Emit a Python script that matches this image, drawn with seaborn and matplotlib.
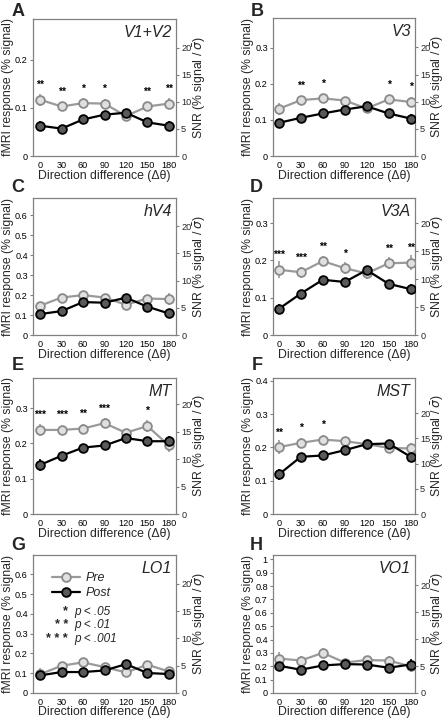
import numpy as np
import pandas as pd
import matplotlib
matplotlib.use("Agg")
import matplotlib.pyplot as plt
import seaborn as sns
from matplotlib.lines import Line2D

sns.set_style("white")
plt.rcParams['font.family'] = ['Liberation Sans', 'DejaVu Sans']

# ---------------- data ----------------
directions = [0, 30, 60, 90, 120, 150, 180]
panel_letters = ["A", "B", "C", "D", "E", "F", "G", "H"]
regions = ["V1+V2", "V3", "hV4", "V3A", "MT", "MST", "LO1", "VO1"]

pre_A = [0.117, 0.103, 0.110, 0.109, 0.083, 0.103, 0.109]
post_A = [0.063, 0.057, 0.076, 0.086, 0.090, 0.070, 0.063]
pre_B = [0.131, 0.155, 0.160, 0.154, 0.132, 0.157, 0.150]
post_B = [0.092, 0.106, 0.118, 0.129, 0.138, 0.118, 0.104]
pre_C = [0.147, 0.188, 0.200, 0.188, 0.152, 0.183, 0.180]
post_C = [0.105, 0.120, 0.165, 0.162, 0.187, 0.142, 0.108]
pre_D = [0.175, 0.168, 0.198, 0.179, 0.165, 0.192, 0.194]
post_D = [0.070, 0.111, 0.148, 0.142, 0.174, 0.137, 0.123]
pre_E = [0.238, 0.238, 0.242, 0.257, 0.230, 0.249, 0.194]
post_E = [0.139, 0.165, 0.188, 0.194, 0.215, 0.206, 0.206]
pre_F = [0.201, 0.214, 0.224, 0.219, 0.210, 0.199, 0.197]
post_F = [0.119, 0.172, 0.176, 0.192, 0.210, 0.212, 0.172]
pre_G = [0.095, 0.138, 0.155, 0.131, 0.104, 0.143, 0.109]
post_G = [0.089, 0.106, 0.106, 0.114, 0.146, 0.101, 0.096]
pre_H = [0.258, 0.243, 0.300, 0.228, 0.246, 0.243, 0.199]
post_H = [0.204, 0.174, 0.206, 0.216, 0.213, 0.189, 0.213]

# standard errors (estimated)
err_pre_A = [0.012, 0.010, 0.011, 0.010, 0.008, 0.010, 0.011]
err_post_A = [0.009, 0.008, 0.008, 0.008, 0.008, 0.008, 0.010]
err_pre_B = [0.016, 0.012, 0.012, 0.011, 0.010, 0.012, 0.014]
err_post_B = [0.012, 0.010, 0.010, 0.010, 0.010, 0.010, 0.013]
err_pre_C = [0.020, 0.016, 0.016, 0.015, 0.015, 0.016, 0.030]
err_post_C = [0.022, 0.016, 0.016, 0.016, 0.016, 0.018, 0.024]
err_pre_D = [0.022, 0.014, 0.014, 0.016, 0.014, 0.016, 0.020]
err_post_D = [0.014, 0.010, 0.010, 0.010, 0.012, 0.010, 0.014]
err_pre_E = [0.018, 0.012, 0.012, 0.014, 0.012, 0.016, 0.018]
err_post_E = [0.016, 0.010, 0.010, 0.010, 0.010, 0.010, 0.016]
err_pre_F = [0.022, 0.014, 0.014, 0.012, 0.012, 0.012, 0.018]
err_post_F = [0.016, 0.012, 0.010, 0.010, 0.010, 0.010, 0.016]
err_pre_G = [0.030, 0.014, 0.014, 0.014, 0.012, 0.014, 0.020]
err_post_G = [0.020, 0.012, 0.012, 0.012, 0.012, 0.012, 0.018]
err_pre_H = [0.050, 0.030, 0.035, 0.030, 0.030, 0.030, 0.045]
err_post_H = [0.035, 0.025, 0.025, 0.025, 0.025, 0.025, 0.040]

stars_A = ["**", "**", "*", "*", "", "**", "**"]
stars_B = ["", "**", "*", "", "", "*", "*"]
stars_C = ["", "", "", "", "", "", ""]
stars_D = ["***", "***", "**", "*", "", "**", "**"]
stars_E = ["***", "***", "**", "***", "", "*", ""]
stars_F = ["**", "*", "*", "", "", "", ""]
stars_G = ["", "", "", "", "", "", ""]
stars_H = ["", "", "", "", "", "", ""]

y_max = [0.285, 0.383, 0.687, 0.367, 0.385, 0.409, 0.698, 1.032]
y_ticks = [
    [0, 0.1, 0.2],
    [0, 0.1, 0.2, 0.3],
    [0, 0.1, 0.2, 0.3, 0.4, 0.5, 0.6],
    [0, 0.1, 0.2, 0.3],
    [0, 0.1, 0.2, 0.3],
    [0, 0.1, 0.2, 0.3, 0.4],
    [0, 0.1, 0.2, 0.3, 0.4, 0.5, 0.6],
    [0, 0.1, 0.2, 0.3, 0.4, 0.5, 0.6, 0.7, 0.8, 0.9, 1.0],
]
snr_max = [25.3, 25.4, 25.2, 24.5, 24.8, 27.0, 25.3, 25.6]
snr_ticks = [0, 5, 10, 15, 20]

pres = [pre_A, pre_B, pre_C, pre_D, pre_E, pre_F, pre_G, pre_H]
posts = [post_A, post_B, post_C, post_D, post_E, post_F, post_G, post_H]
err_pres = [err_pre_A, err_pre_B, err_pre_C, err_pre_D, err_pre_E, err_pre_F, err_pre_G, err_pre_H]
err_posts = [err_post_A, err_post_B, err_post_C, err_post_D, err_post_E, err_post_F, err_post_G, err_post_H]
stars = [stars_A, stars_B, stars_C, stars_D, stars_E, stars_F, stars_G, stars_H]

# ---------------- layout ----------------
W, H = 445, 718
fig = plt.figure(figsize=(W / 100, H / 100), dpi=100)

# pixel boxes (left, top, right, bottom)
boxes = [
    (33, 19, 176, 156), (273, 18, 415, 156),
    (33, 198, 176, 335), (273, 198, 415, 335),
    (33, 378, 176, 514), (273, 378, 415, 514),
    (33, 555, 176, 693), (273, 555, 415, 693),
]
letter_pos = [(18, 12), (257, 12), (18, 188), (256, 188),
              (18, 366), (257, 366), (18, 545), (256, 545)]

PRE_FACE, PRE_EDGE, PRE_LINE = "#e0e0e0", "#8a8a8a", "#9a9a9a"
POST_FACE, POST_EDGE, POST_LINE = "#5a5a5a", "#000000", "#000000"
SPINE = "#808080"
TICK_FS = 6.6
LABEL_FS = 8.8

for i in range(8):
    l, t, r, b = boxes[i]
    ax = fig.add_axes([l / W, 1 - b / H, (r - l) / W, (b - t) / H])
    left_col = (i % 2 == 0)
    xlim = (-10, 190) if left_col else (-8, 186)
    axw, axh = (r - l), (b - t)

    df = pd.DataFrame({
        "direction": directions * 2,
        "response": pres[i] + posts[i],
        "cond": ["Pre"] * 7 + ["Post"] * 7,
    })
    ax.errorbar(directions, pres[i], yerr=err_pres[i], fmt="none",
                ecolor=PRE_LINE, elinewidth=1.2, capsize=0, zorder=2)
    ax.errorbar(directions, posts[i], yerr=err_posts[i], fmt="none",
                ecolor=POST_LINE, elinewidth=1.2, capsize=0, zorder=3)
    sns.lineplot(data=df[df.cond == "Pre"], x="direction", y="response",
                 ax=ax, color=PRE_LINE, lw=1.6, marker="o", markersize=6.3,
                 markerfacecolor=PRE_FACE, markeredgecolor=PRE_EDGE,
                 markeredgewidth=1.3, zorder=4, legend=False)
    sns.lineplot(data=df[df.cond == "Post"], x="direction", y="response",
                 ax=ax, color=POST_LINE, lw=1.6, marker="o", markersize=6.3,
                 markerfacecolor=POST_FACE, markeredgecolor=POST_EDGE,
                 markeredgewidth=1.3, zorder=5, legend=False)

    for j, s in enumerate(stars[i]):
        if s:
            ax.annotate(s, (directions[j], pres[i][j]), xytext=(0, 7),
                        textcoords="offset points", ha="center", va="bottom",
                        fontsize=7.5, fontweight="bold", color="black")

    ax.set_xlim(*xlim)
    ax.set_ylim(0, y_max[i])
    ax.set_xticks(directions)
    ax.set_xticklabels([str(d) for d in directions])
    ax.set_yticks(y_ticks[i])
    ax.set_yticklabels(["0" if v == 0 else ("1" if v == 1 else f"{v:g}") for v in y_ticks[i]])
    ax.tick_params(axis="both", labelsize=TICK_FS, length=2.5, width=0.8,
                   direction="out", colors="black", pad=1.2)
    ax.tick_params(axis="both", color=SPINE)
    ax.set_xlabel("Direction difference (\u0394\u03b8)", fontsize=LABEL_FS, va="top")
    ax.xaxis.set_label_coords(0.5, -13.5 / axh)
    ax.set_ylabel("fMRI response (% signal)", fontsize=LABEL_FS, va="center")
    ax.yaxis.set_label_coords(((8 if left_col else 248) - l) / axw, 0.5)
    for sp in ax.spines.values():
        sp.set_color(SPINE)
        sp.set_linewidth(0.9)
        sp.set_visible(True)

    ax2 = ax.twinx()
    ax2.set_ylim(0, snr_max[i])
    ax2.set_yticks(snr_ticks)
    ax2.tick_params(axis="y", labelsize=TICK_FS, length=2.5, width=0.8,
                    direction="out", pad=1.2, color=SPINE)
    ax2.set_ylabel("SNR (% signal / $\\bar{\\sigma}$)", fontsize=LABEL_FS, va="center")
    snr_x = 199.5 if left_col else 437.5
    ax2.yaxis.set_label_coords((snr_x - l) / axw, 0.5)
    for sp in ax2.spines.values():
        sp.set_visible(False)

    ax.text(0.97, 0.9, regions[i], transform=ax.transAxes, ha="right",
            va="center", fontsize=11.5, style="italic")
    fig.text(letter_pos[i][0] / W, 1 - letter_pos[i][1] / H, panel_letters[i],
             fontsize=13, fontweight="bold", ha="center", va="center")

    if i == 6:
        handles = [
            Line2D([0], [0], color=PRE_LINE, lw=1.6, marker="o", markersize=6.3,
                   markerfacecolor=PRE_FACE, markeredgecolor=PRE_EDGE, markeredgewidth=1.3),
            Line2D([0], [0], color=POST_LINE, lw=1.6, marker="o", markersize=6.3,
                   markerfacecolor=POST_FACE, markeredgecolor=POST_EDGE, markeredgewidth=1.3),
        ]
        ax.legend(handles, ["Pre", "Post"], loc="upper left",
                  bbox_to_anchor=(0.1, 0.91), frameon=False,
                  prop={"style": "italic", "size": 9}, handlelength=2.2,
                  labelspacing=0.2, handletextpad=0.5, borderaxespad=0)
        sig_labels = ["*", "**", "***"]
        sig_text = ["p < .05", "p < .01", "p < .001"]
        ys = [0.59, 0.49, 0.39]
        for sl, st, yy in zip(sig_labels, sig_text, ys):
            ax.text(0.245, yy, " ".join(sl), transform=ax.transAxes, ha="right",
                    va="center", fontsize=9, fontweight="bold")
            ax.text(0.29, yy, st, transform=ax.transAxes, ha="left",
                    va="center", fontsize=8.5, style="italic")

fig.savefig("out.png", dpi=100)
